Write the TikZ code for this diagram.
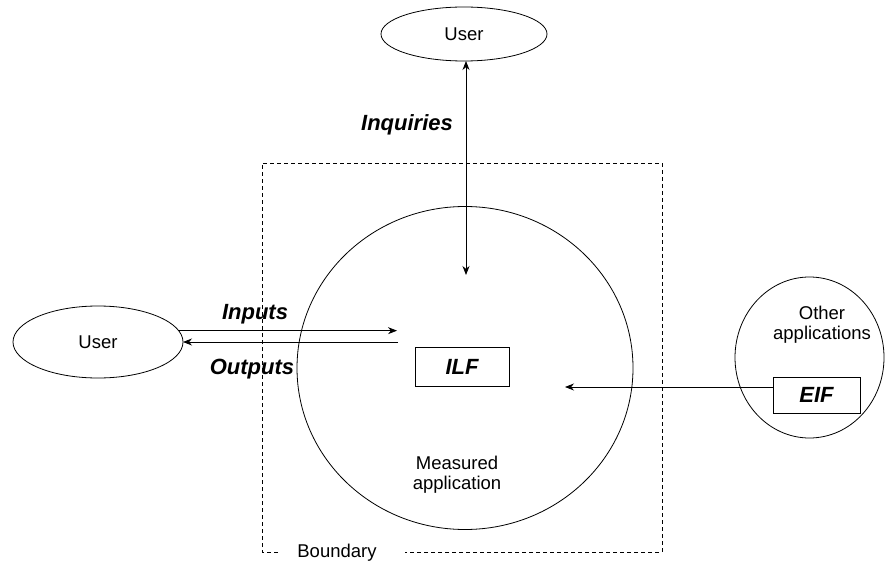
\documentclass[tikz,border=0pt]{standalone}
\usepackage{fontspec}
\setmainfont{Liberation Sans}
\usetikzlibrary{arrows.meta,shapes.geometric}

\begin{document}
\begin{tikzpicture}[x=1pt, y=1pt,
  every node/.style = {
    inner sep = 0,
    outer sep = 0,
    font = \fontsize{18.5}{20}\selectfont,
  },
  blob/.style = {ellipse, draw = black, line width = 0.8pt},
  store/.style = {rectangle, draw = black, line width = 0.8pt,
    font = \fontsize{22}{24}\selectfont\bfseries\itshape},
  flow/.style = {font = \fontsize{22}{24}\selectfont\bfseries\itshape},
  link/.style = {line width = 0.8pt, >={Stealth[length=9pt, width=7pt]}},
]
\useasboundingbox (0,0) rectangle (885,-561);

% boundary of the measured application
\draw[line width=0.8pt, dash pattern=on 4pt off 3pt]
  (278,-552) -- (262,-552) -- (262,-163) -- (662,-163) -- (662,-552) -- (405,-552);
\node[anchor=base] (bnd) at (337,-557) {Boundary};

% applications and users
\node[blob, minimum width=336, minimum height=323] (app) at (465,-368) {};
\node[align=center] (applbl) at (457,-475) {Measured\\application};
\node[blob, minimum width=166, minimum height=54] (usertop) at (464,-34) {User};
\node[blob, minimum width=170, minimum height=72] (userleft) at (98,-342) {User};
\node[blob, minimum width=149, minimum height=161] (other) at (809.5,-357.5) {};
\node[align=center] (otherlbl) at (822,-325) {Other\\applications};

% files
\node[store, minimum width=94, minimum height=39] (ilf) at (462,-366.5) {ILF};
\node[store, minimum width=87, minimum height=36] (eif) at (816.5,-395) {EIF};

% flows
\coordinate (inend) at (397,-331);
\coordinate (outstart) at (398,-343);
\coordinate (inqend) at (466,-275);
\coordinate (eifend) at (565,-387);
\draw[link, ->] (userleft.8) -- (userleft.8 -| inend);
\draw[link, ->] (userleft.east -| outstart) -- (userleft.east);
\draw[link, <->] (inqend |- usertop.south) -- (inqend);
\draw[link, ->] (eifend -| eif.west) -- (eifend);

\node[flow] (inq) at (407,-125) {Inquiries};
\node[flow] (inp) at (255,-314.5) {Inputs};
\node[flow] (outp) at (252,-369) {Outputs};
\end{tikzpicture}
\end{document}
